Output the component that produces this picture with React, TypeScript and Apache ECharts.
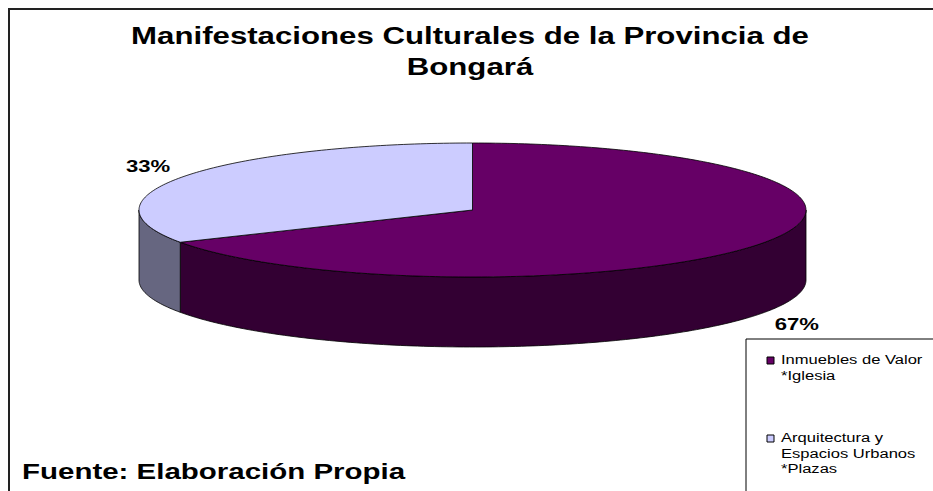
import React, { useEffect, useRef } from 'react';
import * as echarts from 'echarts';

// ---- data ----
const titleLines = ['Manifestaciones Culturales de la Provincia de', 'Bongará'];
const categories = ['Inmuebles de Valor\n*Iglesia', 'Arquitectura y\nEspacios Urbanos\n*Plazas'];
const values = [67, 33];
const topColors = ['#660066', '#CCCCFF'];
const sideColors = ['#330033', '#666680'];
const sourceText = 'Fuente: Elaboración Propia';

// ---- layout ----
const CX = 472.5;
const CY = 210;
const RX = 333.5;
const RY = 67;
const DEPTH = 70;
const FONT = '"Liberation Sans", Arial, sans-serif';

const total = values.reduce((a, b) => a + b, 0);

function renderItem(params: any, api: any) {
  const idx = params.dataIndex;
  const v = api.value(0);
  let before = 0;
  for (let k = 0; k < idx; k++) before += values[k];
  const a0 = (before / total) * 2 * Math.PI;
  const a1 = ((before + v) / total) * 2 * Math.PI;
  const pt = (t: number, dy: number) => [CX + RX * Math.sin(t), CY - RY * Math.cos(t) + dy];
  const arc = (s: number, e: number, dy: number) => {
    const n = Math.max(2, Math.ceil(Math.abs(e - s) / (Math.PI / 180)));
    const out: number[][] = [];
    for (let j = 0; j <= n; j++) out.push(pt(s + ((e - s) * j) / n, dy));
    return out;
  };
  const children: any[] = [];
  const s = Math.max(a0, Math.PI / 2);
  const e = Math.min(a1, (3 * Math.PI) / 2);
  if (e > s) {
    children.push({
      type: 'polygon',
      shape: { points: arc(s, e, 0).concat(arc(e, s, DEPTH)) },
      style: { fill: sideColors[idx], stroke: '#000', lineWidth: 0.8 },
    });
  }
  children.push({
    type: 'polygon',
    shape: { points: [[CX, CY]].concat(arc(a0, a1, 0)) },
    style: { fill: topColors[idx], stroke: '#000', lineWidth: 0.8 },
  });
  const mid = (a0 + a1) / 2;
  const front = Math.cos(mid) < 0;
  children.push({
    type: 'text',
    x: CX + RX * 1.13 * Math.sin(mid),
    y: CY - RY * 1.3 * Math.cos(mid) + (front ? DEPTH : 0),
    scaleX: 1.3,
    style: {
      text: Math.round((v / total) * 100) + '%',
      font: 'bold 17px ' + FONT,
      fill: '#000',
      align: 'center',
      verticalAlign: 'middle',
    },
  });
  return { type: 'group', children };
}

export default function App() {
  const ref = useRef<HTMLDivElement>(null);
  useEffect(() => {
    if (!ref.current) return;
    const chart = echarts.init(ref.current, null, { renderer: 'svg' });
    const legendItems: any[] = [];
    const legendTops = [357, 435];
    categories.forEach((name, i) => {
      legendItems.push({
        type: 'rect',
        shape: { x: 767, y: legendTops[i], width: 7, height: 7 },
        style: { fill: topColors[i], stroke: '#000', lineWidth: 1 },
      });
      legendItems.push({
        type: 'text',
        x: 781,
        y: legendTops[i] - 4.5,
        scaleX: 1.38,
        style: {
          text: name,
          font: '12px ' + FONT,
          lineHeight: 15.5,
          fill: '#000',
          align: 'left',
          verticalAlign: 'top',
        },
      });
    });
    chart.setOption({
      animation: false,
      backgroundColor: '#fff',
      graphic: [
        {
          type: 'rect',
          shape: { x: 9, y: 9, width: 1000, height: 1000 },
          style: { fill: 'none', stroke: '#222', lineWidth: 2 },
        },
        {
          type: 'text',
          x: 470,
          y: 36,
          scaleX: 1.3,
          style: {
            text: titleLines[0],
            font: 'bold 24px ' + FONT,
            fill: '#000',
            align: 'center',
            verticalAlign: 'middle',
          },
        },
        {
          type: 'text',
          x: 470,
          y: 67,
          scaleX: 1.3,
          style: {
            text: titleLines[1],
            font: 'bold 24px ' + FONT,
            fill: '#000',
            align: 'center',
            verticalAlign: 'middle',
          },
        },
        {
          type: 'text',
          x: 22,
          y: 471,
          scaleX: 1.34,
          style: {
            text: sourceText,
            font: 'bold 22px ' + FONT,
            fill: '#000',
            align: 'left',
            verticalAlign: 'middle',
          },
        },
        {
          type: 'rect',
          shape: { x: 746, y: 339, width: 300, height: 300 },
          style: { fill: '#fff', stroke: '#000', lineWidth: 1 },
        },
        ...legendItems,
      ],
      series: [
        {
          type: 'custom',
          coordinateSystem: 'none',
          silent: true,
          renderItem,
          data: values.map((v, i) => ({ name: categories[i], value: [v, i] })),
        },
      ],
    });
    return () => chart.dispose();
  }, []);
  return (
    <div
      ref={ref}
      style={{ position: 'fixed', left: 0, top: 0, width: 933, height: 491 }}
    />
  );
}
